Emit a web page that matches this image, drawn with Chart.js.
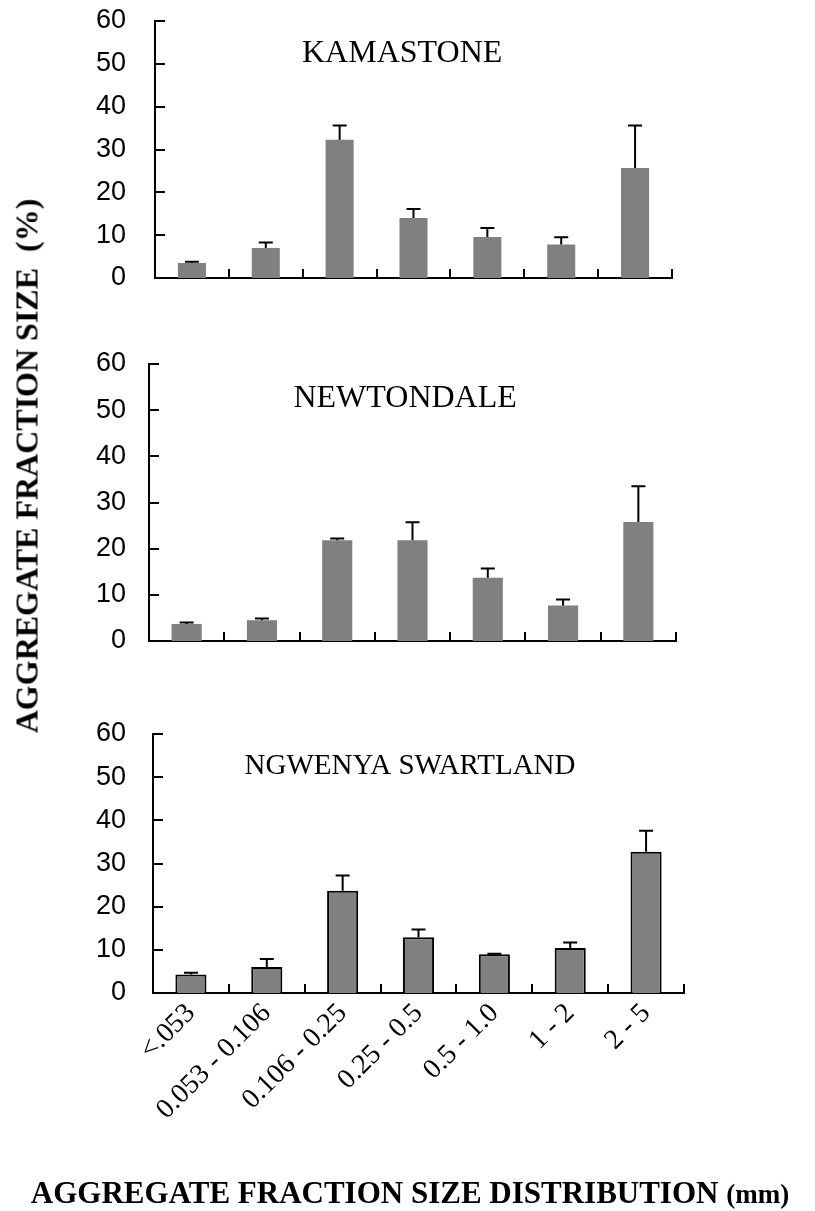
<!DOCTYPE html>
<html>
<head>
<meta charset="utf-8">
<script src="https://cdn.jsdelivr.net/npm/chart.js@4.4.1/dist/chart.umd.min.js"></script>
<style>
  body { margin: 0; background: #fff; }
  #page { position: relative; width: 815px; height: 1211px; overflow: hidden; background: #fff; }
  #page canvas { position: absolute; left: 0; }
  #ytitle {
    position: absolute; left: 27px; top: 466px;
    transform: translate(-50%, -50%) rotate(-90deg);
    font: bold 32px "Liberation Serif"; white-space: pre; color: #000;
  }
  #xtitle {
    position: absolute; left: 410px; top: 1193px;
    transform: translate(-50%, -50%);
    font: bold 31px "Liberation Serif"; white-space: pre; color: #000;
  }
  #xtitle span { font-size: 27px; }
</style>
</head>
<body>
<div id="page">
  <canvas id="kama" width="815" height="300" style="top:0px"></canvas>
  <canvas id="newt" width="815" height="340" style="top:330px"></canvas>
  <canvas id="ngwe" width="815" height="511" style="top:700px"></canvas>
  <div id="ytitle">AGGREGATE FRACTION SIZE  (%)</div>
  <div id="xtitle">AGGREGATE FRACTION SIZE DISTRIBUTION <span>(mm)</span></div>
</div>
<script>
// aggregate size classes (mm)
var sizeClasses = ["<.053", "0.053 - 0.106", "0.106 - 0.25", "0.25 - 0.5", "0.5 - 1.0", "1 - 2", "2 - 5"];
var yTicks = [0, 10, 20, 30, 40, 50, 60];

// mean % and upper error
var kamastone = [3.5, 7.0, 32.3, 14.0, 9.6, 7.8, 25.7];
var kamastoneErr = [0.3, 1.3, 3.3, 2.1, 2.1, 1.7, 9.9];
var newtondale = [3.7, 4.5, 21.8, 21.8, 13.7, 7.7, 25.8];
var newtondaleErr = [0.3, 0.4, 0.4, 3.9, 2.0, 1.3, 7.7];
var ngwenya = [4.3, 6.0, 23.7, 12.9, 9.0, 10.4, 32.7];
var ngwenyaErr = [0.4, 1.9, 3.5, 1.8, 0.1, 1.3, 4.9];

// upward error bars with a cap
var errorBars = {
  id: "errorBars",
  afterDatasetsDraw: function (chart) {
    var ctx = chart.ctx, y = chart.scales.y;
    var ds = chart.data.datasets[0];
    var meta = chart.getDatasetMeta(0);
    ctx.save();
    ctx.strokeStyle = "#000";
    ctx.lineWidth = 2;
    meta.data.forEach(function (bar, i) {
      var top = y.getPixelForValue(ds.data[i] + ds.errors[i]);
      ctx.beginPath();
      ctx.moveTo(bar.x, bar.y);
      ctx.lineTo(bar.x, top);
      ctx.moveTo(bar.x - 7, top);
      ctx.lineTo(bar.x + 7, top);
      ctx.stroke();
    });
    ctx.restore();
  }
};

// tick marks pointing into the plot
var innerTicks = {
  id: "innerTicks",
  afterDraw: function (chart) {
    var ctx = chart.ctx, x = chart.scales.x, y = chart.scales.y, a = chart.chartArea;
    ctx.save();
    ctx.strokeStyle = "#000";
    ctx.lineWidth = 2;
    ctx.beginPath();
    y.ticks.forEach(function (t) {
      var py = Math.round(y.getPixelForValue(t.value));
      ctx.moveTo(a.left, py);
      ctx.lineTo(a.left + 10, py);
    });
    for (var i = 1; i <= sizeClasses.length; i++) {
      var px = Math.round(x.getPixelForValue(i - 0.5));
      ctx.moveTo(px, a.bottom);
      ctx.lineTo(px, a.bottom - 9);
    }
    ctx.stroke();
    ctx.restore();
  }
};

// site name inside the plot
var panelTitle = {
  id: "panelTitle",
  afterDraw: function (chart, args, opts) {
    var ctx = chart.ctx, a = chart.chartArea;
    ctx.save();
    ctx.font = opts.size + "px 'Liberation Serif'";
    ctx.fillStyle = "#000";
    ctx.textAlign = "center";
    ctx.textBaseline = "middle";
    ctx.fillText(opts.text, a.left + (a.right - a.left) * opts.pos, chart.scales.y.getPixelForValue(opts.level));
    ctx.restore();
  }
};

function panel(id, values, errors, o) {
  return new Chart(document.getElementById(id), {
    type: "bar",
    data: {
      labels: sizeClasses,
      datasets: [{
        data: values,
        errors: errors,
        backgroundColor: "#808080",
        borderColor: "#000",
        borderWidth: o.border,
        barPercentage: o.barPct,
        categoryPercentage: 1
      }]
    },
    options: {
      responsive: false,
      animation: false,
      events: [],
      layout: { padding: { top: o.top, right: 815 - o.right, bottom: o.bottom, left: 0 } },
      plugins: {
        legend: { display: false },
        tooltip: { enabled: false },
        panelTitle: { text: o.title, pos: o.titlePos, size: o.titleSize, level: 52.5 }
      },
      scales: {
        x: {
          grid: { display: false, drawTicks: false },
          border: { color: "#000", width: 2 },
          ticks: {
            display: o.labels,
            autoSkip: false,
            minRotation: 45,
            maxRotation: 45,
            color: "#000",
            padding: 4,
            font: { family: "Liberation Serif", size: 28 }
          },
          afterFit: function (s) { s.height = o.xHeight; }
        },
        y: {
          min: 0,
          max: 60,
          afterBuildTicks: function (s) { s.ticks = yTicks.map(function (v) { return { value: v }; }); },
          grid: { display: false, drawTicks: false },
          border: { color: "#000", width: 2 },
          ticks: {
            color: "#000",
            padding: o.left - 126,
            font: { family: "Liberation Sans", size: 27 }
          },
          afterFit: function (s) {
            s.width = o.left;
            s.paddingTop = 0;
            s.paddingBottom = 0;
          }
        }
      }
    },
    plugins: [errorBars, innerTicks, panelTitle]
  });
}

panel("kama", kamastone, kamastoneErr, {
  title: "KAMASTONE", titlePos: 0.478, titleSize: 32, border: 0, barPct: 0.38,
  left: 155, right: 672, top: 21, bottom: 22, xHeight: 0, labels: false
});
panel("newt", newtondale, newtondaleErr, {
  title: "NEWTONDALE", titlePos: 0.486, titleSize: 32, border: 0, barPct: 0.40,
  left: 149, right: 676, top: 34, bottom: 29, xHeight: 0, labels: false
});
panel("ngwe", ngwenya, ngwenyaErr, {
  title: "NGWENYA SWARTLAND", titlePos: 0.484, titleSize: 29, border: 2, barPct: 0.41,
  left: 153, right: 684, top: 34, bottom: 0, xHeight: 218, labels: true
});
</script>
</body>
</html>
